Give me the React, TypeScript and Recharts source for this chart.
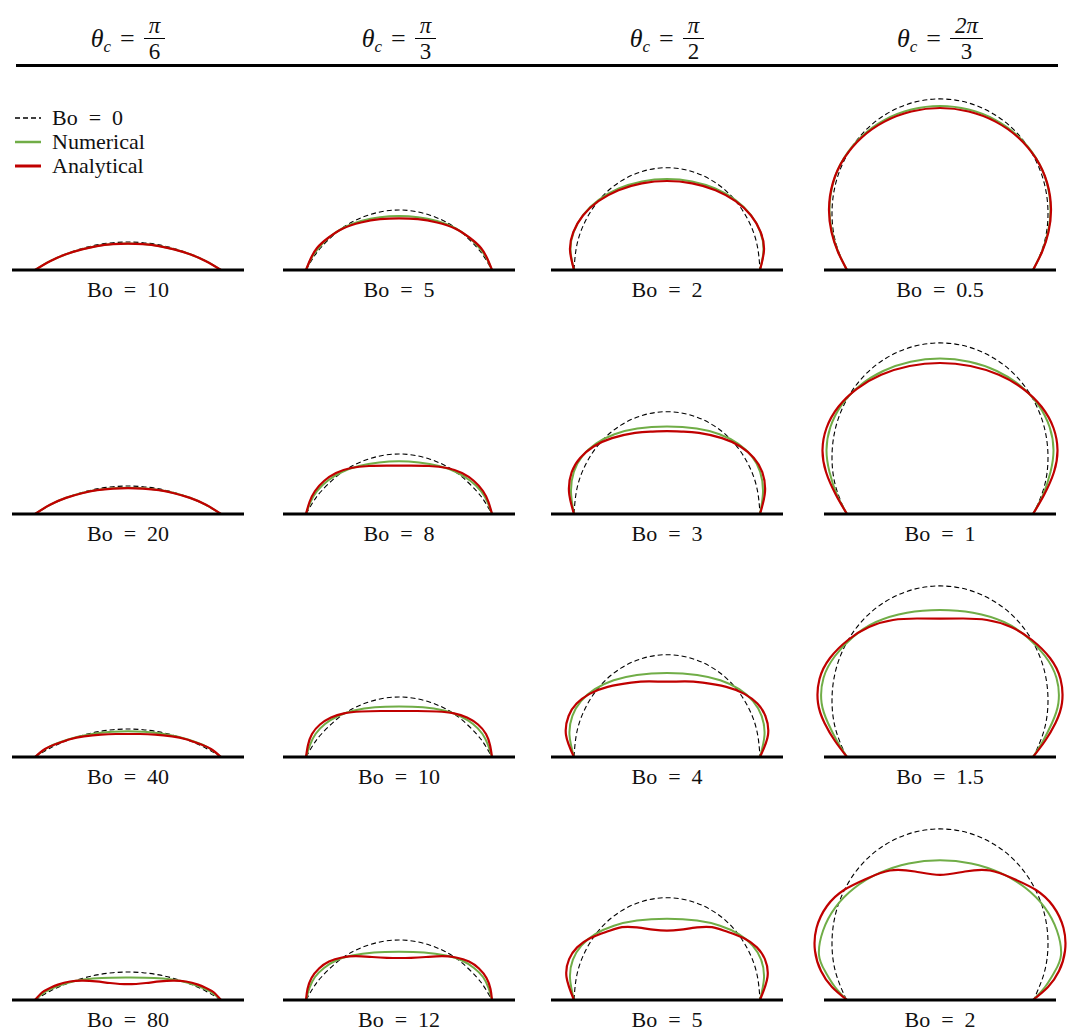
import { LineChart, Line, XAxis, YAxis, ReferenceLine } from 'recharts';

// [r, z]: offset from the drop axis and height above the wall, left contact -> apex
type Pt = [number, number];

const angleNum = ['π', 'π', 'π', '2π'];
const angleDen = ['6', '3', '2', '3'];
const bondNumbers = [
  ['10', '20', '40', '80'],
  ['5', '8', '10', '12'],
  ['2', '3', '4', '5'],
  ['0.5', '1', '1.5', '2'],
];

// Bo = 0 spherical caps, one per contact angle
const capPi6: Pt[] = [[-93, 0], [-78, 8.8], [-62, 16.1], [-46, 21.5], [-31, 25.1], [-15, 27.3], [0, 28]];
const capPi3: Pt[] = [[-93, 0], [-86, 11.9], [-78, 22.5], [-62, 38], [-46, 48.5], [-31, 54.8], [-15, 58.8], [0, 60]];
const capPi2: Pt[] = [[-93, 0], [-89.8, 26.5], [-80.5, 51.2], [-65.8, 72.4], [-46.5, 88.6], [-24.1, 98.8], [0, 102.3]];
const cap2Pi3: Pt[] = [[-93.5, 0], [-104.3, 27.5], [-108, 57], [-104.3, 86.6], [-93.5, 114], [-76.4, 137.7], [-54, 155.8], [-28, 167.2], [0, 171.1]];

const numericalPi6: Pt[][] = [
  [[-93, 0], [-78, 8.8], [-62, 15.8], [-46, 20.8], [-31, 24.1], [-15, 26], [0, 26.6]],
  [[-93, 0], [-78, 9.2], [-62, 16.2], [-46, 21], [-31, 24], [-15, 25.7], [0, 26.2]],
  [[-93, 0], [-80, 9.5], [-66, 15.5], [-50, 20.2], [-33, 23.6], [-16, 25.3], [0, 25.8]],
  [[-93, 0], [-82, 8.5], [-68, 14.8], [-52, 19.3], [-35, 21.5], [-17, 22.3], [0, 22.4]],
];
const analyticalPi6: Pt[][] = [
  [[-93, 0], [-78, 8.8], [-62, 15.7], [-46, 20.6], [-31, 23.9], [-15, 25.8], [0, 26.4]],
  [[-93, 0], [-78, 9.2], [-62, 16.1], [-46, 20.8], [-31, 23.8], [-15, 25.4], [0, 25.9]],
  [[-93, 0], [-83, 8], [-72, 13], [-58, 17.8], [-44, 20.6], [-27, 22.4], [-12, 23], [0, 23]],
  [[-93, 0], [-86, 7.5], [-79, 11.6], [-70, 15.4], [-58, 18.5], [-45, 19.3], [-32, 18.6], [-18, 17], [0, 15.8]],
];

const numericalPi3: Pt[][] = [
  [[-93, 0], [-88, 11], [-81, 21.5], [-70, 32.5], [-55, 42.5], [-38, 49], [-19, 52.8], [0, 54]],
  [[-93, 0], [-88.5, 12], [-82, 23], [-71, 33.5], [-57, 42], [-40, 48], [-20, 51.5], [0, 52.7]],
  [[-93, 0], [-89, 12], [-83.5, 23], [-74, 33], [-61, 41], [-45, 46.5], [-24, 49.8], [0, 50.6]],
  [[-93, 0], [-89.5, 12], [-84, 23], [-75, 32], [-63, 39.5], [-47, 44.5], [-25, 47.5], [0, 48.2]],
];
const analyticalPi3: Pt[][] = [
  [[-93, 0], [-88.5, 11], [-82, 22], [-71, 32], [-56, 41.5], [-38, 47.5], [-19, 50.8], [0, 51.7]],
  [[-93, 0], [-89.5, 12], [-84, 23], [-75, 33], [-63, 41], [-48, 46], [-30, 48], [-12, 48.3], [0, 48.3]],
  [[-93, 0], [-91, 12], [-87, 23], [-79, 32.5], [-68, 39.5], [-55, 43.7], [-38, 45.5], [-18, 46], [0, 46]],
  [[-93, 0], [-91.5, 11], [-87.5, 22], [-80, 31.5], [-70, 38.5], [-57, 42.5], [-43, 43.8], [-27, 43], [-12, 42.2], [0, 42]],
];

const numericalPi2: Pt[][] = [
  [[-93, 0], [-96.5, 20], [-93.2, 38.4], [-83.6, 55.5], [-68.2, 70.2], [-48.3, 81.5], [-25, 88.6], [0, 91]],
  [[-93, 0], [-96, 22], [-93.1, 42.2], [-84.7, 57.8], [-71, 70.5], [-52.5, 79.8], [-29.7, 85.5], [0, 87.5]],
  [[-93, 0], [-97.5, 22], [-94.6, 41.2], [-86, 55.9], [-72.2, 67.9], [-53.3, 76.7], [-30.1, 82.1], [0, 84]],
  [[-93, 0], [-97, 22], [-94.1, 40.3], [-85.6, 54.4], [-71.8, 65.8], [-53.1, 74.2], [-30, 79.4], [0, 81.2]],
];
const analyticalPi2: Pt[][] = [
  [[-93, 0], [-97, 20], [-93.7, 37.9], [-84, 54.5], [-68.6, 68.8], [-48.5, 79.8], [-25.1, 86.6], [0, 89]],
  [[-93, 0], [-98, 22], [-95.3, 41.8], [-86.9, 56.1], [-73.4, 67.5], [-55, 75.9], [-31.9, 81.1], [-16, 82.4], [0, 82.8]],
  [[-93, 0], [-101, 22], [-98.4, 41], [-90.4, 53.5], [-77.4, 63.1], [-59.3, 70.1], [-35.8, 74.3], [-18, 75.6], [0, 75.3]],
  [[-93, 0], [-100.5, 23], [-97.9, 40.9], [-89.9, 52.6], [-77, 61.7], [-59, 68.7], [-45, 72.8], [-30, 72.6], [-14, 70.4], [0, 69.3]],
];

const numerical2Pi3: Pt[][] = [
  [[-93, 0], [-101.8, 18], [-108, 38], [-110.5, 61], [-106.7, 87.7], [-95.7, 112.5], [-78.1, 133.8], [-55.3, 150.2], [-28.6, 160.5], [0, 164]],
  [[-93, 0], [-103, 19], [-110.5, 42], [-113.5, 64], [-109.6, 87], [-98.3, 109.2], [-80.3, 128.3], [-56.8, 143], [-29.4, 152.2], [0, 155.4]],
  [[-93, 0], [-103, 16], [-112, 34], [-118.4, 54], [-116.5, 79], [-105, 101], [-87, 120], [-64, 135], [-33, 144.3], [0, 147]],
  [[-93, 0], [-105, 13], [-114.5, 28], [-121, 45], [-116.9, 69.5], [-104.8, 92.4], [-85.6, 112], [-60.5, 127.1], [-31.3, 136.6], [0, 139.8]],
];
const analytical2Pi3: Pt[][] = [
  [[-93, 0], [-102, 18], [-108.5, 38], [-111, 61], [-107.2, 86.9], [-96.1, 111.3], [-78.5, 132.3], [-55.5, 148.4], [-28.7, 158.5], [0, 162]],
  [[-93, 0], [-104, 19], [-114, 42], [-117.5, 64], [-113.5, 86], [-101.8, 107], [-83.1, 125.2], [-58.8, 139.2], [-30.4, 148], [0, 151]],
  [[-93, 0], [-105, 16], [-115.5, 34], [-122, 54], [-120.5, 78], [-110, 99], [-92, 117], [-71, 130], [-47, 137], [-23, 138.5], [0, 138.4]],
  [[-93, 0], [-108, 13], [-119, 29], [-125, 49], [-123.5, 72], [-113, 94], [-96, 110], [-73, 121.5], [-50, 129.5], [-25, 128.5], [0, 125.2]],
];

const caps = [capPi6, capPi3, capPi2, cap2Pi3];
const numerical = [numericalPi6, numericalPi3, numericalPi2, numerical2Pi3];
const analytical = [analyticalPi6, analyticalPi3, analyticalPi2, analytical2Pi3];

// layout
const colCenters = [128, 399, 667, 940];
const rowBases = [270, 514, 757, 1000];
const W = 264;
const H = 190;
const TOP = 182;
const FONT = '"Liberation Serif", "DejaVu Serif", serif';
const GREEN = '#70ad47';
const RED = '#c00000';
const SP = '\u2002';

// drops are axisymmetric: mirror the left half about r = 0
const toProfile = (half: Pt[]) => {
  const left = half.map(([r, z]) => ({ x: r, y: z }));
  const right = half.slice(0, -1).reverse().map(([r, z]) => ({ x: -r, y: z }));
  return [...left, ...right];
};

function Drop({ cx, base, cap, num, ana, bo }: { cx: number; base: number; cap: Pt[]; num: Pt[]; ana: Pt[]; bo: string }) {
  return (
    <>
      <div style={{ position: 'absolute', left: cx - W / 2, top: base - TOP }}>
        <LineChart width={W} height={H} margin={{ top: 0, right: 0, bottom: 0, left: 0 }}>
          <XAxis type="number" dataKey="x" domain={[-W / 2, W / 2]} hide />
          <YAxis type="number" domain={[TOP - H, TOP]} hide />
          <Line data={toProfile(cap)} dataKey="y" type="natural" stroke="#000" strokeWidth={1.1}
            strokeDasharray="5 3" dot={false} activeDot={false} isAnimationActive={false} />
          <Line data={toProfile(num)} dataKey="y" type="natural" stroke={GREEN} strokeWidth={2}
            dot={false} activeDot={false} isAnimationActive={false} />
          <Line data={toProfile(ana)} dataKey="y" type="natural" stroke={RED} strokeWidth={2.2}
            dot={false} activeDot={false} isAnimationActive={false} />
          <ReferenceLine segment={[{ x: -116, y: 0 }, { x: 116, y: 0 }]} stroke="#000" strokeWidth={3} />
        </LineChart>
      </div>
      <div style={{ position: 'absolute', left: cx - 100, width: 200, top: base + 9, lineHeight: '22px',
        textAlign: 'center', fontSize: 22 }}>
        {`Bo${SP}=${SP}${bo}`}
      </div>
    </>
  );
}

function Header({ cx, num, den }: { cx: number; num: string; den: string }) {
  return (
    <div style={{ position: 'absolute', left: cx - 100, width: 200, top: 13, display: 'flex',
      justifyContent: 'center', alignItems: 'center', fontSize: 26 }}>
      <span style={{ fontStyle: 'italic' }}>
        θ<span style={{ fontSize: 17, position: 'relative', top: 5 }}>c</span>
      </span>
      <span style={{ margin: '0 9px' }}>=</span>
      <span style={{ display: 'inline-flex', flexDirection: 'column', alignItems: 'center', fontSize: 23 }}>
        <span style={{ lineHeight: '25px', fontStyle: 'italic', padding: '0 5px' }}>{num}</span>
        <span style={{ borderTop: '1.3px solid #000', lineHeight: '25px', alignSelf: 'stretch', textAlign: 'center' }}>{den}</span>
      </span>
    </div>
  );
}

const legendItems = [
  { label: `Bo${SP}=${SP}0`, color: '#000', width: 1.3, dash: '5 3' },
  { label: 'Numerical', color: GREEN, width: 2.5, dash: undefined },
  { label: 'Analytical', color: RED, width: 3, dash: undefined },
];

export default function App() {
  return (
    <div style={{ position: 'absolute', left: 0, top: 0, width: 1072, height: 1031, overflow: 'hidden',
      background: '#fff', fontFamily: FONT, color: '#111' }}>
      {colCenters.map((cx, c) => (
        <Header key={`h${c}`} cx={cx} num={angleNum[c]} den={angleDen[c]} />
      ))}
      <div style={{ position: 'absolute', left: 16, top: 64, width: 1042, height: 3, background: '#000' }} />
      {colCenters.map((cx, c) =>
        rowBases.map((base, r) => (
          <Drop key={`${c}-${r}`} cx={cx} base={base} cap={caps[c]} num={numerical[c][r]}
            ana={analytical[c][r]} bo={bondNumbers[c][r]} />
        ))
      )}
      {legendItems.map((it, i) => (
        <div key={it.label} style={{ position: 'absolute', left: 14, top: 106 + i * 24, height: 24,
          display: 'flex', alignItems: 'center', fontSize: 22 }}>
          <svg width={28} height={10} style={{ marginRight: 10 }}>
            <line x1={1} y1={5} x2={27} y2={5} stroke={it.color} strokeWidth={it.width} strokeDasharray={it.dash} />
          </svg>
          <span>{it.label}</span>
        </div>
      ))}
    </div>
  );
}
